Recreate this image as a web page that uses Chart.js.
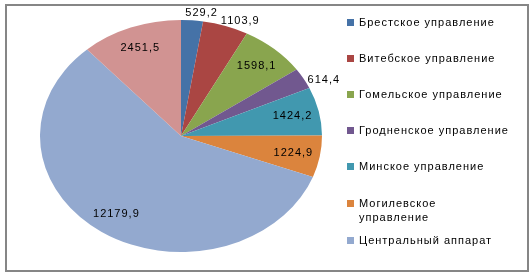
<!DOCTYPE html>
<html>
<head>
<meta charset="utf-8">
<script src="https://cdn.jsdelivr.net/npm/chart.js@4.4.0/dist/chart.umd.min.js"></script>
<style>
    body { margin: 0; background: #fff; }
    .wrap { position: relative; width: 532px; height: 275px; overflow: hidden; }
    .frame { position: absolute; left: 5px; top: 4px; width: 520px; height: 264px; border: 2px solid #868686; }
    canvas { position: absolute; left: 0; top: 0; }
    .legend { position: absolute; left: 347px; top: 0; font: 11px "Liberation Sans", Arial, sans-serif; letter-spacing: 1px; color: #000; }
    .legend-item { position: absolute; left: 0; white-space: nowrap; line-height: 14px; }
    .legend-box { position: absolute; left: 0; top: 4px; width: 7px; height: 7px; }
    .legend-text { position: absolute; left: 12px; top: 0; }
</style>
</head>
<body>
<div class="wrap">
    <div class="frame"></div>
    <canvas id="pieChart" width="532" height="275"></canvas>
    <div class="legend" id="legend"></div>
</div>
<script>
// 数据
const categories = ['Брестское управление', 'Витебское управление', 'Гомельское управление',
    'Гродненское управление', 'Минское управление', 'Могилевское управление',
    'Центральный аппарат', ''];
const values = [529.2, 1103.9, 1598.1, 614.4, 1424.2, 1224.9, 12179.9, 2451.5];
const colors = ['#4572A7', '#AA4643', '#89A54E', '#71588F', '#4198AF', '#DB843D', '#93A9CF', '#D19392'];

// 图例布局
const legendTops = [15, 51, 87, 123, 159, 196, 233];
const wrapped = [5];

// 椭圆比例 (水平拉伸)
const stretch = 141 / 116;

const ellipsePlugin = {
    id: 'ellipse',
    beforeDatasetsDraw(chart) {
        const ctx = chart.ctx;
        const cx = (chart.chartArea.left + chart.chartArea.right) / 2;
        ctx.save();
        ctx.translate(cx, 0);
        ctx.scale(stretch, 1);
        ctx.translate(-cx, 0);
    },
    afterDatasetsDraw(chart) {
        chart.ctx.restore();
    }
};

// 数据标签
const labelPlugin = {
    id: 'sliceLabels',
    afterDraw(chart) {
        const ctx = chart.ctx;
        const meta = chart.getDatasetMeta(0);
        const total = values.reduce((a, b) => a + b, 0);
        ctx.save();
        ctx.font = '11px "Liberation Sans", Arial, sans-serif';
        ctx.letterSpacing = '1px';
        ctx.fillStyle = '#000';
        ctx.textAlign = 'center';
        ctx.textBaseline = 'middle';
        meta.data.forEach((arc, i) => {
            const text = values[i].toFixed(1).replace('.', ',');
            let mid = (arc.startAngle + arc.endAngle) / 2;
            let x, y;
            if (values[i] / total < 0.055) {
                // 外侧标签: 贴着椭圆边缘放置
                mid += 0.05;
                const w = ctx.measureText(text).width;
                x = arc.x + Math.cos(mid) * arc.outerRadius * 1.02 * stretch + Math.cos(mid) * w / 2;
                y = arc.y + Math.sin(mid) * arc.outerRadius * 1.02 + Math.sin(mid) * 5.5;
            } else {
                x = arc.x + Math.cos(mid) * arc.outerRadius * 0.81 * stretch;
                y = arc.y + Math.sin(mid) * arc.outerRadius * 0.81;
            }
            ctx.fillText(text, x, y);
        });
        ctx.restore();
    }
};

const ctx = document.getElementById('pieChart').getContext('2d');
new Chart(ctx, {
    type: 'pie',
    data: {
        labels: categories,
        datasets: [{
            data: values,
            backgroundColor: colors,
            borderWidth: 0
        }]
    },
    options: {
        responsive: false,
        animation: false,
        layout: { padding: { left: 65, right: 235, top: 20, bottom: 23 } },
        plugins: {
            legend: { display: false },
            tooltip: { enabled: false }
        }
    },
    plugins: [ellipsePlugin, labelPlugin]
});

// HTML 图例
const legend = document.getElementById('legend');
legendTops.forEach((top, i) => {
    const item = document.createElement('div');
    item.className = 'legend-item';
    item.style.top = top + 'px';
    const box = document.createElement('div');
    box.className = 'legend-box';
    box.style.background = colors[i];
    const text = document.createElement('div');
    text.className = 'legend-text';
    if (wrapped.includes(i)) {
        text.innerHTML = categories[i].replace(' ', '<br>');
    } else {
        text.textContent = categories[i];
    }
    item.appendChild(box);
    item.appendChild(text);
    legend.appendChild(item);
});
</script>
</body>
</html>
